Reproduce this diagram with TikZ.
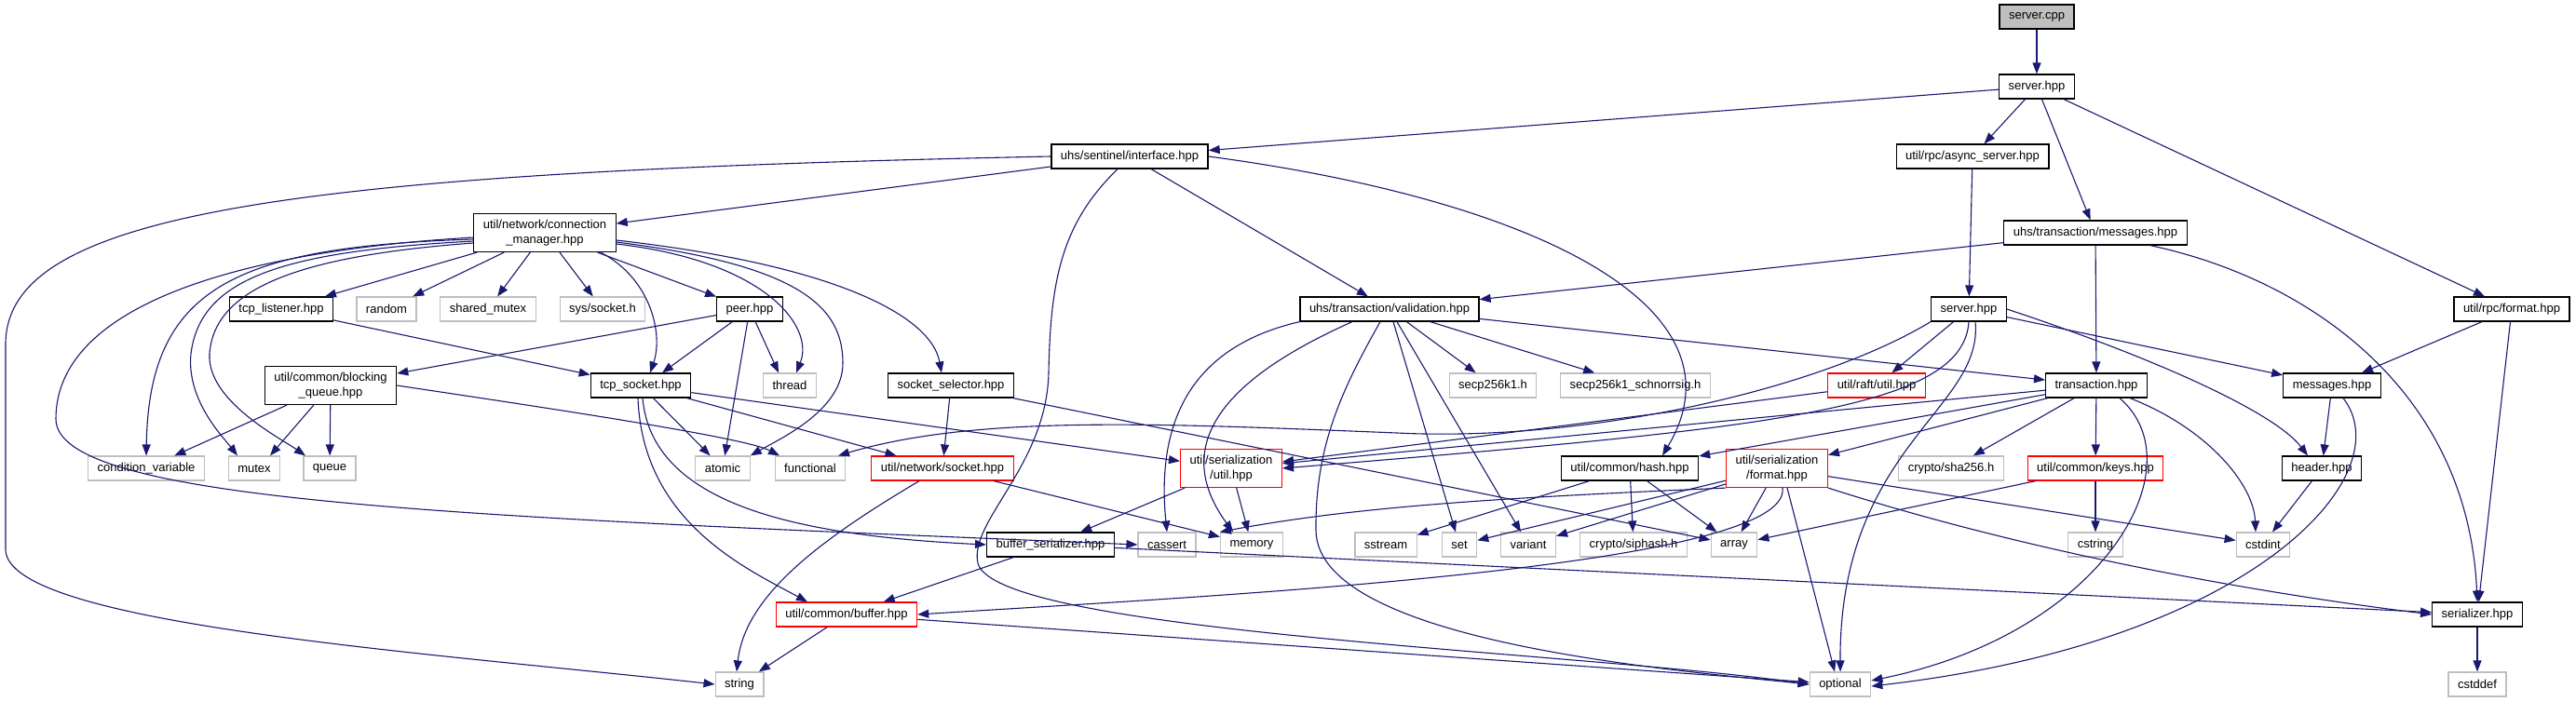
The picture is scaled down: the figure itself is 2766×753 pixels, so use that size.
\documentclass[tikz,border=0pt]{standalone}
\usepackage{fontspec}
\setmainfont{Liberation Sans}
\usetikzlibrary{arrows.meta}
\definecolor{edgeblue}{HTML}{191970}
\definecolor{sysgray}{HTML}{BFBFBF}

\begin{document}
\begin{tikzpicture}[x=1pt,y=-1pt,box/.style={draw=black,fill=white,line width=1.2pt,align=center,font=\fontsize{13}{16}\selectfont,minimum height=26pt,inner xsep=10pt,inner ysep=2pt},sysbox/.style={box,draw=sysgray},redbox/.style={box,draw=red},rootbox/.style={box,fill=sysgray},twoline/.style={minimum height=41pt},arr/.style={draw=edgeblue,line width=1.1pt,-{Triangle[length=12pt,width=9pt]}}]
\useasboundingbox (0,0) rectangle (2766,753);
\node[rootbox] (srvcpp) at (2187,18) {server.cpp};
\node[box] (srvhpp) at (2187,93) {server.hpp};
\node[box] (iface) at (1213,168) {uhs/sentinel/interface.hpp};
\node[box] (async) at (2118,168) {util/rpc/async\_server.hpp};
\node[box,twoline] (conmgr) at (585,250) {util/network/connection\\\_manager.hpp};
\node[box] (txmsg) at (2250,250) {uhs/transaction/messages.hpp};
\node[box] (tcplis) at (302,332) {tcp\_listener.hpp};
\node[sysbox] (rnd) at (415,332) {random};
\node[sysbox] (shmtx) at (524,332) {shared\_mutex};
\node[sysbox] (syssock) at (647,332) {sys/socket.h};
\node[box] (peer) at (805,332) {peer.hpp};
\node[box] (valid) at (1492,332) {uhs/transaction/validation.hpp};
\node[box] (srv2) at (2114,332) {server.hpp};
\node[box] (rpcfmt) at (2697,332) {util/rpc/format.hpp};
\node[box,twoline] (bq) at (355,414) {util/common/blocking\\\_queue.hpp};
\node[box] (tcpsock) at (688,414) {tcp\_socket.hpp};
\node[sysbox] (thread) at (848,414) {thread};
\node[box] (sel) at (1021,414) {socket\_selector.hpp};
\node[sysbox] (secp) at (1603,414) {secp256k1.h};
\node[sysbox] (schnorr) at (1756,414) {secp256k1\_schnorrsig.h};
\node[redbox] (raft) at (2015,414) {util/raft/util.hpp};
\node[box] (txn) at (2251,414) {transaction.hpp};
\node[box] (msgs) at (2504,414) {messages.hpp};
\node[sysbox] (condvar) at (157,503) {condition\_variable};
\node[sysbox] (mtx) at (273,503) {mutex};
\node[sysbox] (queue) at (354,503) {queue};
\node[sysbox] (atomic) at (776,503) {atomic};
\node[sysbox] (func) at (870,503) {functional};
\node[redbox] (netsock) at (1012,503) {util/network/socket.hpp};
\node[redbox,twoline] (serutil) at (1322,503) {util/serialization\\/util.hpp};
\node[box] (hash) at (1750,503) {util/common/hash.hpp};
\node[redbox,twoline] (serfmt) at (1908,503) {util/serialization\\/format.hpp};
\node[sysbox] (sha) at (2095,503) {crypto/sha256.h};
\node[redbox] (keys) at (2250,503) {util/common/keys.hpp};
\node[box] (header) at (2493,503) {header.hpp};
\node[box] (bufser) at (1128,585) {buffer\_serializer.hpp};
\node[sysbox] (cassert) at (1253,585) {cassert};
\node[sysbox] (memory) at (1344,585) {memory};
\node[sysbox] (sstream) at (1488,585) {sstream};
\node[sysbox] (set) at (1567,585) {set};
\node[sysbox] (variant) at (1641,585) {variant};
\node[sysbox] (siphash) at (1754,585) {crypto/siphash.h};
\node[sysbox] (array) at (1862,585) {array};
\node[sysbox] (cstring) at (2250,585) {cstring};
\node[sysbox] (cstdint) at (2430,585) {cstdint};
\node[redbox] (buffer) at (909,660) {util/common/buffer.hpp};
\node[box] (serial) at (2660,660) {serializer.hpp};
\node[sysbox] (string) at (794,735) {string};
\node[sysbox] (optional) at (1976,735) {optional};
\node[sysbox] (cstddef) at (2660,735) {cstddef};
% top part
\draw[arr] (srvcpp) -- (srvhpp);
\draw[arr] (srvhpp) -- (iface);\draw[arr] (srvhpp) -- (async);\draw[arr] (srvhpp) -- (txmsg);\draw[arr] (srvhpp) -- (rpcfmt);
\draw[arr] (iface) -- (conmgr);\draw[arr] (iface) -- (valid);
\draw[arr] (iface.west) .. controls (300,185) and (6,230) .. (6,370) -- (6,590) .. controls (6,670) and (450,700) .. (string.west);
\draw[arr] ([xshift=-13pt]iface.south) .. controls (1140,240) and (1128,300) .. (1126,400) .. controls (1124,500) and (1040,560) .. (1050,605) .. controls (1070,680) and (1700,700) .. (optional.west);
\draw[arr] (iface.east) .. controls (1650,215) and (1880,330) .. ([xshift=35pt]hash.north);
\draw[arr] (async) -- (srv2);
\draw[arr] (txmsg) -- (valid);\draw[arr] (txmsg) -- (txn);
\draw[arr] ([xshift=-40pt]txmsg.south east) .. controls (2480,300) and (2650,420) .. (serial.north);
\draw[arr] (rpcfmt) -- (msgs);\draw[arr] (rpcfmt) -- (serial);
% connection manager
\draw[arr] (conmgr) -- (tcplis);\draw[arr] (conmgr) -- (rnd);\draw[arr] (conmgr) -- (shmtx);\draw[arr] (conmgr) -- (syssock);\draw[arr] (conmgr) -- (peer);
\draw[arr] ([xshift=60pt]conmgr.south) .. controls (700,300) and (712,360) .. ([xshift=10pt]tcpsock.north);
\draw[arr] ([yshift=-12pt]conmgr.east) .. controls (820,280) and (875,350) .. ([xshift=7pt]thread.north);
\draw[arr] ([yshift=-10pt]conmgr.east) .. controls (860,285) and (905,330) .. (905,390) .. controls (905,440) and (840,470) .. (atomic.north east);
\draw[arr] ([yshift=-8pt]conmgr.east) .. controls (900,285) and (1000,340) .. ([xshift=-10pt]sel.north);
\draw[arr] ([yshift=-5pt]conmgr.west) .. controls (250,270) and (60,330) .. (60,450) .. controls (60,540) and (500,555) .. (cassert.west);
\draw[arr] ([yshift=-7pt]conmgr.west) .. controls (250,265) and (160,310) .. (condvar.north);
\draw[arr] ([yshift=-9pt]conmgr.west) .. controls (300,270) and (215,300) .. (205,380) .. controls (200,430) and (240,470) .. ([xshift=-18pt]mtx.north);
\draw[arr] ([yshift=-11pt]conmgr.west) .. controls (320,275) and (230,310) .. (225,380) .. controls (222,430) and (300,470) .. ([xshift=-26pt]queue.north);
\draw[arr] (tcplis) -- (tcpsock);
\draw[arr] (peer) -- (bq);\draw[arr] (peer) -- ([xshift=23pt]tcpsock.north);\draw[arr] (peer) -- (atomic);\draw[arr] (peer) -- ([xshift=-12pt]thread.north);
% validation
\draw[arr] (valid.south west) .. controls (1290,370) and (1240,440) .. (cassert.north);
\draw[arr] ([xshift=-40pt]valid.south) .. controls (1330,400) and (1250,470) .. ([xshift=-20pt]memory.north);
\draw[arr] ([xshift=-10pt]valid.south) .. controls (1440,420) and (1412,480) .. (1413,570) .. controls (1415,690) and (1800,720) .. (optional.west);
\draw[arr] (valid) -- (set);\draw[arr] (valid) -- (variant);\draw[arr] (valid) -- (secp);\draw[arr] (valid) -- (schnorr);\draw[arr] (valid) -- (txn);
% second server.hpp
\draw[arr] (srv2.south west) .. controls (1950,420) and (1700,475) .. (1500,465) .. controls (1250,455) and (1050,445) .. ([xshift=30pt]func.north);
\draw[arr] (srv2) -- (raft);
\draw[arr] (srv2.south) .. controls (2108,440) and (1900,460) .. (serutil.east);
\draw[arr] ([xshift=7pt]srv2.south) .. controls (2130,440) and (1975,480) .. (optional.north);
\draw[arr] (srv2) -- (msgs);
\draw[arr] (srv2.east) .. controls (2300,380) and (2440,440) .. ([xshift=-15pt]header.north);
\draw[arr] (raft) -- (serutil);
% transaction
\draw[arr] (txn) -- (serutil);\draw[arr] (txn) -- (hash);\draw[arr] (txn) -- (serfmt);\draw[arr] (txn) -- (sha);\draw[arr] (txn) -- (keys);
\draw[arr] ([xshift=25pt]txn.south) .. controls (2360,500) and (2260,680) .. ([yshift=4pt]optional.east);
\draw[arr] ([xshift=36pt]txn.south) .. controls (2370,460) and (2420,520) .. ([xshift=-8pt]cstdint.north);
\draw[arr] (msgs) -- (header);
\draw[arr] ([xshift=12pt]msgs.south) .. controls (2580,510) and (2420,690) .. ([yshift=-2pt]optional.east);
\draw[arr] (header) -- ([xshift=10pt]cstdint.north);
% blocking queue and socket
\draw[arr] (bq) -- (condvar);\draw[arr] (bq) -- ([xshift=17pt]mtx.north);\draw[arr] (bq) -- (queue);
\draw[arr] (bq.east) .. controls (600,440) and (800,470) .. ([xshift=-33pt]func.north);
\draw[arr] (tcpsock) -- (atomic);\draw[arr] (tcpsock) -- (netsock);\draw[arr] (tcpsock) -- (serutil);
\draw[arr] ([xshift=2pt]tcpsock.south) .. controls (700,540) and (850,575) .. (bufser.west);
\draw[arr] ([xshift=-3pt]tcpsock.south) .. controls (690,560) and (800,610) .. ([xshift=-42pt]buffer.north);
\draw[arr] (sel) -- (netsock);\draw[arr] (sel) -- (array);
\draw[arr] (netsock) -- (memory);
\draw[arr] ([xshift=-25pt]netsock.south) .. controls (880,580) and (800,640) .. ([xshift=-3pt]string.north);
% serialization
\draw[arr] (serutil) -- (bufser);\draw[arr] (serutil) -- (memory);
\draw[arr] (hash) -- (sstream);\draw[arr] (hash) -- (siphash);\draw[arr] (hash) -- (array);
\draw[arr] (serfmt.south west) .. controls (1600,535) and (1450,545) .. (memory.north west);
\draw[arr] (serfmt) -- (set);\draw[arr] (serfmt) -- (variant);\draw[arr] (serfmt) -- (array);
\draw[arr] ([xshift=6pt]serfmt.south) .. controls (1925,610) and (1300,640) .. (buffer.east);
\draw[arr] ([xshift=11pt]serfmt.south) -- ([xshift=-6pt]optional.north);
\draw[arr] (serfmt) -- (cstdint);
\draw[arr] (serfmt.south east) .. controls (2200,600) and (2450,640) .. (serial.west);
\draw[arr] (keys) -- (array);\draw[arr] (keys) -- (cstring);
\draw[arr] (bufser) -- (buffer);\draw[arr] (bufser) -- (serial);
\draw[arr] (buffer) -- (string);\draw[arr] (buffer) -- (optional);
\draw[arr] (serial) -- (cstddef);
\end{tikzpicture}
\end{document}
